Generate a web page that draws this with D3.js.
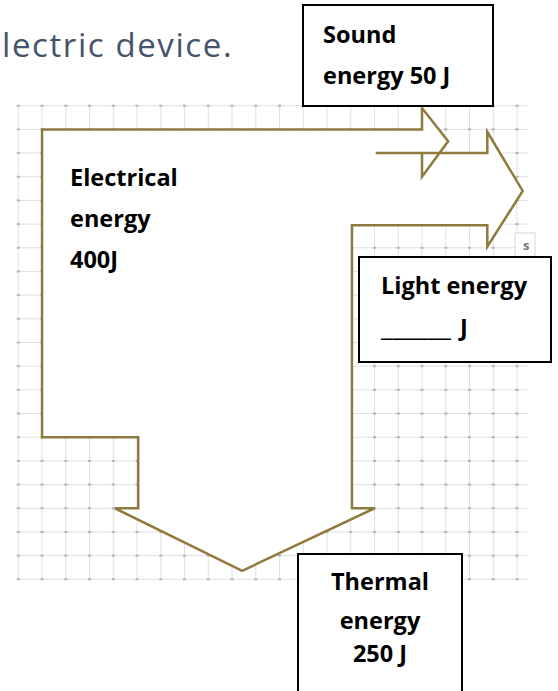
<!DOCTYPE html>
<html>
<head>
<meta charset="utf-8">
<script src="https://cdn.jsdelivr.net/npm/d3@7"></script>
<style>
  body { margin: 0; background: #fff; }
  svg { display: block; }
</style>
</head>
<body>
<svg id="chart" width="558" height="691"></svg>
<script>
// grid (in cells)
const gridCols = d3.range(0, 22);
const gridRows = d3.range(0, 21);

// outline of the energy flow, in grid cells [col, row]
const flowOutline = [
  [1, 1], [17, 1], [17, 0.1], [18.1, 1.5], [17, 3], [17, 2],
  [19.75, 2], [19.75, 1.1], [21.24, 3.6], [19.75, 5.95], [19.75, 5.05],
  [14.05, 5.05], [14.05, 17], [15, 17], [9.43, 19.64], [4.07, 17],
  [5.05, 17], [5.05, 14], [1, 14]
];
// inner edge of the sound branch
const soundEdge = [[15.05, 2], [17, 2]];

const titleText = "lectric device.";
const electricalLines = ["Electrical", "energy", "400J"];
const soundLines = ["Sound", "energy 50 J"];
const lightLines = ["Light energy", "J"];
const lightBlank = "______";
const thermalLines = ["Thermal", "energy", "250 J"];

const svg = d3.select("#chart");
const x = d3.scaleLinear().domain([0, 21]).range([18.3, 517]);
const y = d3.scaleLinear().domain([0, 20]).range([105.7, 579.3]);

// Title (cut off at left)
svg.append("text")
  .attr("x", 2).attr("y", 57)
  .style("font-family", "'Open Sans', sans-serif")
  .style("font-size", "33px")
  .style("letter-spacing", "1.6px")
  .style("fill", "#44546a")
  .text(titleText);

// Grid
const grid = svg.append("g");
grid.selectAll(".vline").data(gridCols).enter().append("line")
  .attr("x1", d => x(d)).attr("x2", d => x(d))
  .attr("y1", y(0)).attr("y2", y(20))
  .attr("stroke", "#e0e0e0").attr("stroke-width", 1);
grid.selectAll(".hline").data(gridRows).enter().append("line")
  .attr("x1", x(-0.05)).attr("x2", x(21.45))
  .attr("y1", d => y(d)).attr("y2", d => y(d))
  .attr("stroke", "#e0e0e0").attr("stroke-width", 1);
const crossings = gridRows.flatMap(r => gridCols.map(c => [c, r]));
grid.selectAll(".dot").data(crossings).enter().append("rect")
  .attr("x", d => x(d[0]) - 1.5).attr("y", d => y(d[1]) - 1)
  .attr("width", 3).attr("height", 2)
  .attr("fill", "#b4b4b4");

// small cut-off label at right edge of the grid
svg.append("rect").attr("x", 515).attr("y", 233).attr("width", 20).attr("height", 24)
  .attr("fill", "#fff").attr("stroke", "#d8d8d8");
svg.append("text").attr("x", 523).attr("y", 250)
  .style("font-family", "'Open Sans', sans-serif").style("font-size", "13px")
  .style("font-weight", "700")
  .style("fill", "#777").text("s");

// Flow outline
const line = d3.line().x(d => x(d[0])).y(d => y(d[1]));
svg.append("path")
  .attr("d", line(flowOutline) + "Z")
  .attr("fill", "#fff")
  .attr("stroke", "#8f7a3e")
  .attr("stroke-width", 2.5)
  .attr("stroke-linejoin", "miter");
svg.append("path")
  .attr("d", line(soundEdge))
  .attr("fill", "none")
  .attr("stroke", "#8f7a3e")
  .attr("stroke-width", 2.5);

// Label boxes
const boxes = [
  { x: 303, y: 5, w: 190, h: 101 },
  { x: 359, y: 257, w: 192, h: 105 },
  { x: 298, y: 554, w: 164, h: 150 }
];
svg.selectAll(".box").data(boxes).enter().append("rect")
  .attr("x", d => d.x).attr("y", d => d.y)
  .attr("width", d => d.w).attr("height", d => d.h)
  .attr("fill", "#fff").attr("stroke", "#000").attr("stroke-width", 2);

function addLines(lines, tx, baselines, anchor) {
  const t = svg.append("text")
    .style("font-family", "'Open Sans', sans-serif")
    .style("font-weight", "700")
    .style("font-size", "23.5px")
    .style("fill", "#000")
    .attr("text-anchor", anchor);
  lines.forEach((s, i) => {
    t.append("tspan").attr("x", tx[i] !== undefined ? tx[i] : tx).attr("y", baselines[i]).text(s);
  });
  return t;
}

addLines(electricalLines, 70, [186, 227, 268], "start");
addLines(soundLines, 323, [43, 84], "start");
addLines(lightLines, [381, 460], [294, 336], "start");
// blank to fill in
svg.append("text")
  .attr("x", 381).attr("y", 336)
  .attr("textLength", 70).attr("lengthAdjust", "spacingAndGlyphs")
  .style("font-family", "'Open Sans', sans-serif")
  .style("font-weight", "700")
  .style("font-size", "23.5px")
  .text(lightBlank);
addLines(thermalLines, 380, [590, 629, 662], "middle");
</script>
</body>
</html>
